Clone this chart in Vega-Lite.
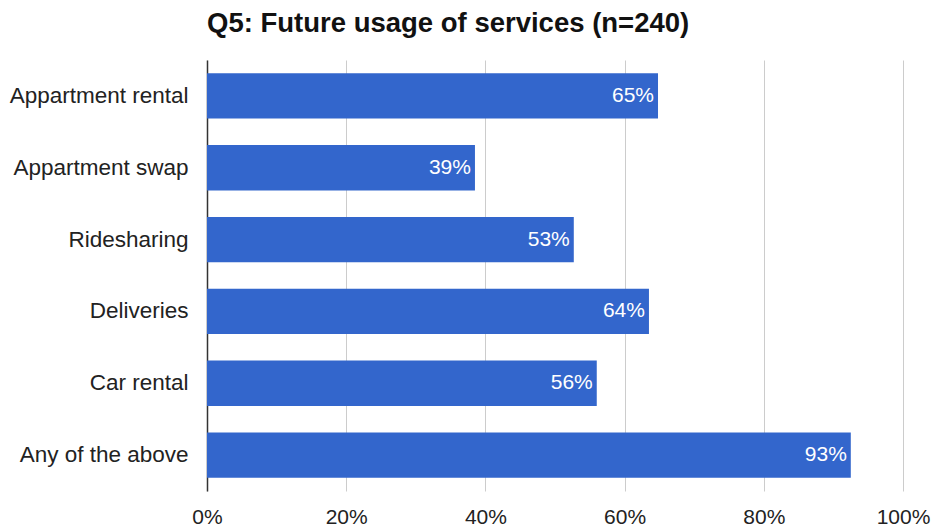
{
  "$schema": "https://vega.github.io/schema/vega-lite/v6.json",
  "width": 696,
  "height": 431,
  "autosize": {"type": "none"},
  "padding": {"left": 207, "top": 60, "right": 29, "bottom": 36},
  "background": "white",
  "title": {
    "text": "Q5: Future usage of services (n=240)",
    "anchor": "start",
    "frame": "group",
    "font": "Liberation Sans",
    "fontSize": 27.5,
    "fontWeight": "bold",
    "color": "#111111",
    "offset": 23
  },
  "config": {
    "view": {"stroke": null},
    "font": "Liberation Sans"
  },
  "data": {
    "values": [
      {"service": "Appartment rental", "share": 0.648},
      {"service": "Appartment swap", "share": 0.385},
      {"service": "Ridesharing", "share": 0.527},
      {"service": "Deliveries", "share": 0.635},
      {"service": "Car rental", "share": 0.56},
      {"service": "Any of the above", "share": 0.925}
    ]
  },
  "encoding": {
    "y": {
      "field": "service",
      "type": "nominal",
      "sort": null,
      "scale": {"paddingInner": 0.37, "paddingOuter": 0.185},
      "axis": {
        "title": null,
        "ticks": false,
        "domain": true,
        "domainColor": "#333333",
        "domainWidth": 1.5,
        "labelFontSize": 22.5,
        "labelColor": "#222222",
        "labelPadding": 19,
        "labelFont": "Liberation Sans",
        "labelLimit": 300
      }
    },
    "x": {
      "field": "share",
      "type": "quantitative",
      "scale": {"domain": [0, 1]},
      "axis": {
        "title": null,
        "format": ".0%",
        "values": [0, 0.2, 0.4, 0.6, 0.8, 1],
        "ticks": false,
        "domain": false,
        "labelFlush": false,
        "gridColor": "#cccccc",
        "labelFontSize": 21,
        "labelColor": "#222222",
        "labelPadding": 15,
        "labelFont": "Liberation Sans"
      }
    }
  },
  "layer": [
    {"mark": {"type": "bar", "color": "#3366CC"}},
    {
      "mark": {"type": "text", "align": "right", "dx": -4, "color": "white", "fontSize": 21, "font": "Liberation Sans", "baseline": "middle"},
      "encoding": {"text": {"field": "share", "type": "quantitative", "format": ".0%"}}
    }
  ]
}
